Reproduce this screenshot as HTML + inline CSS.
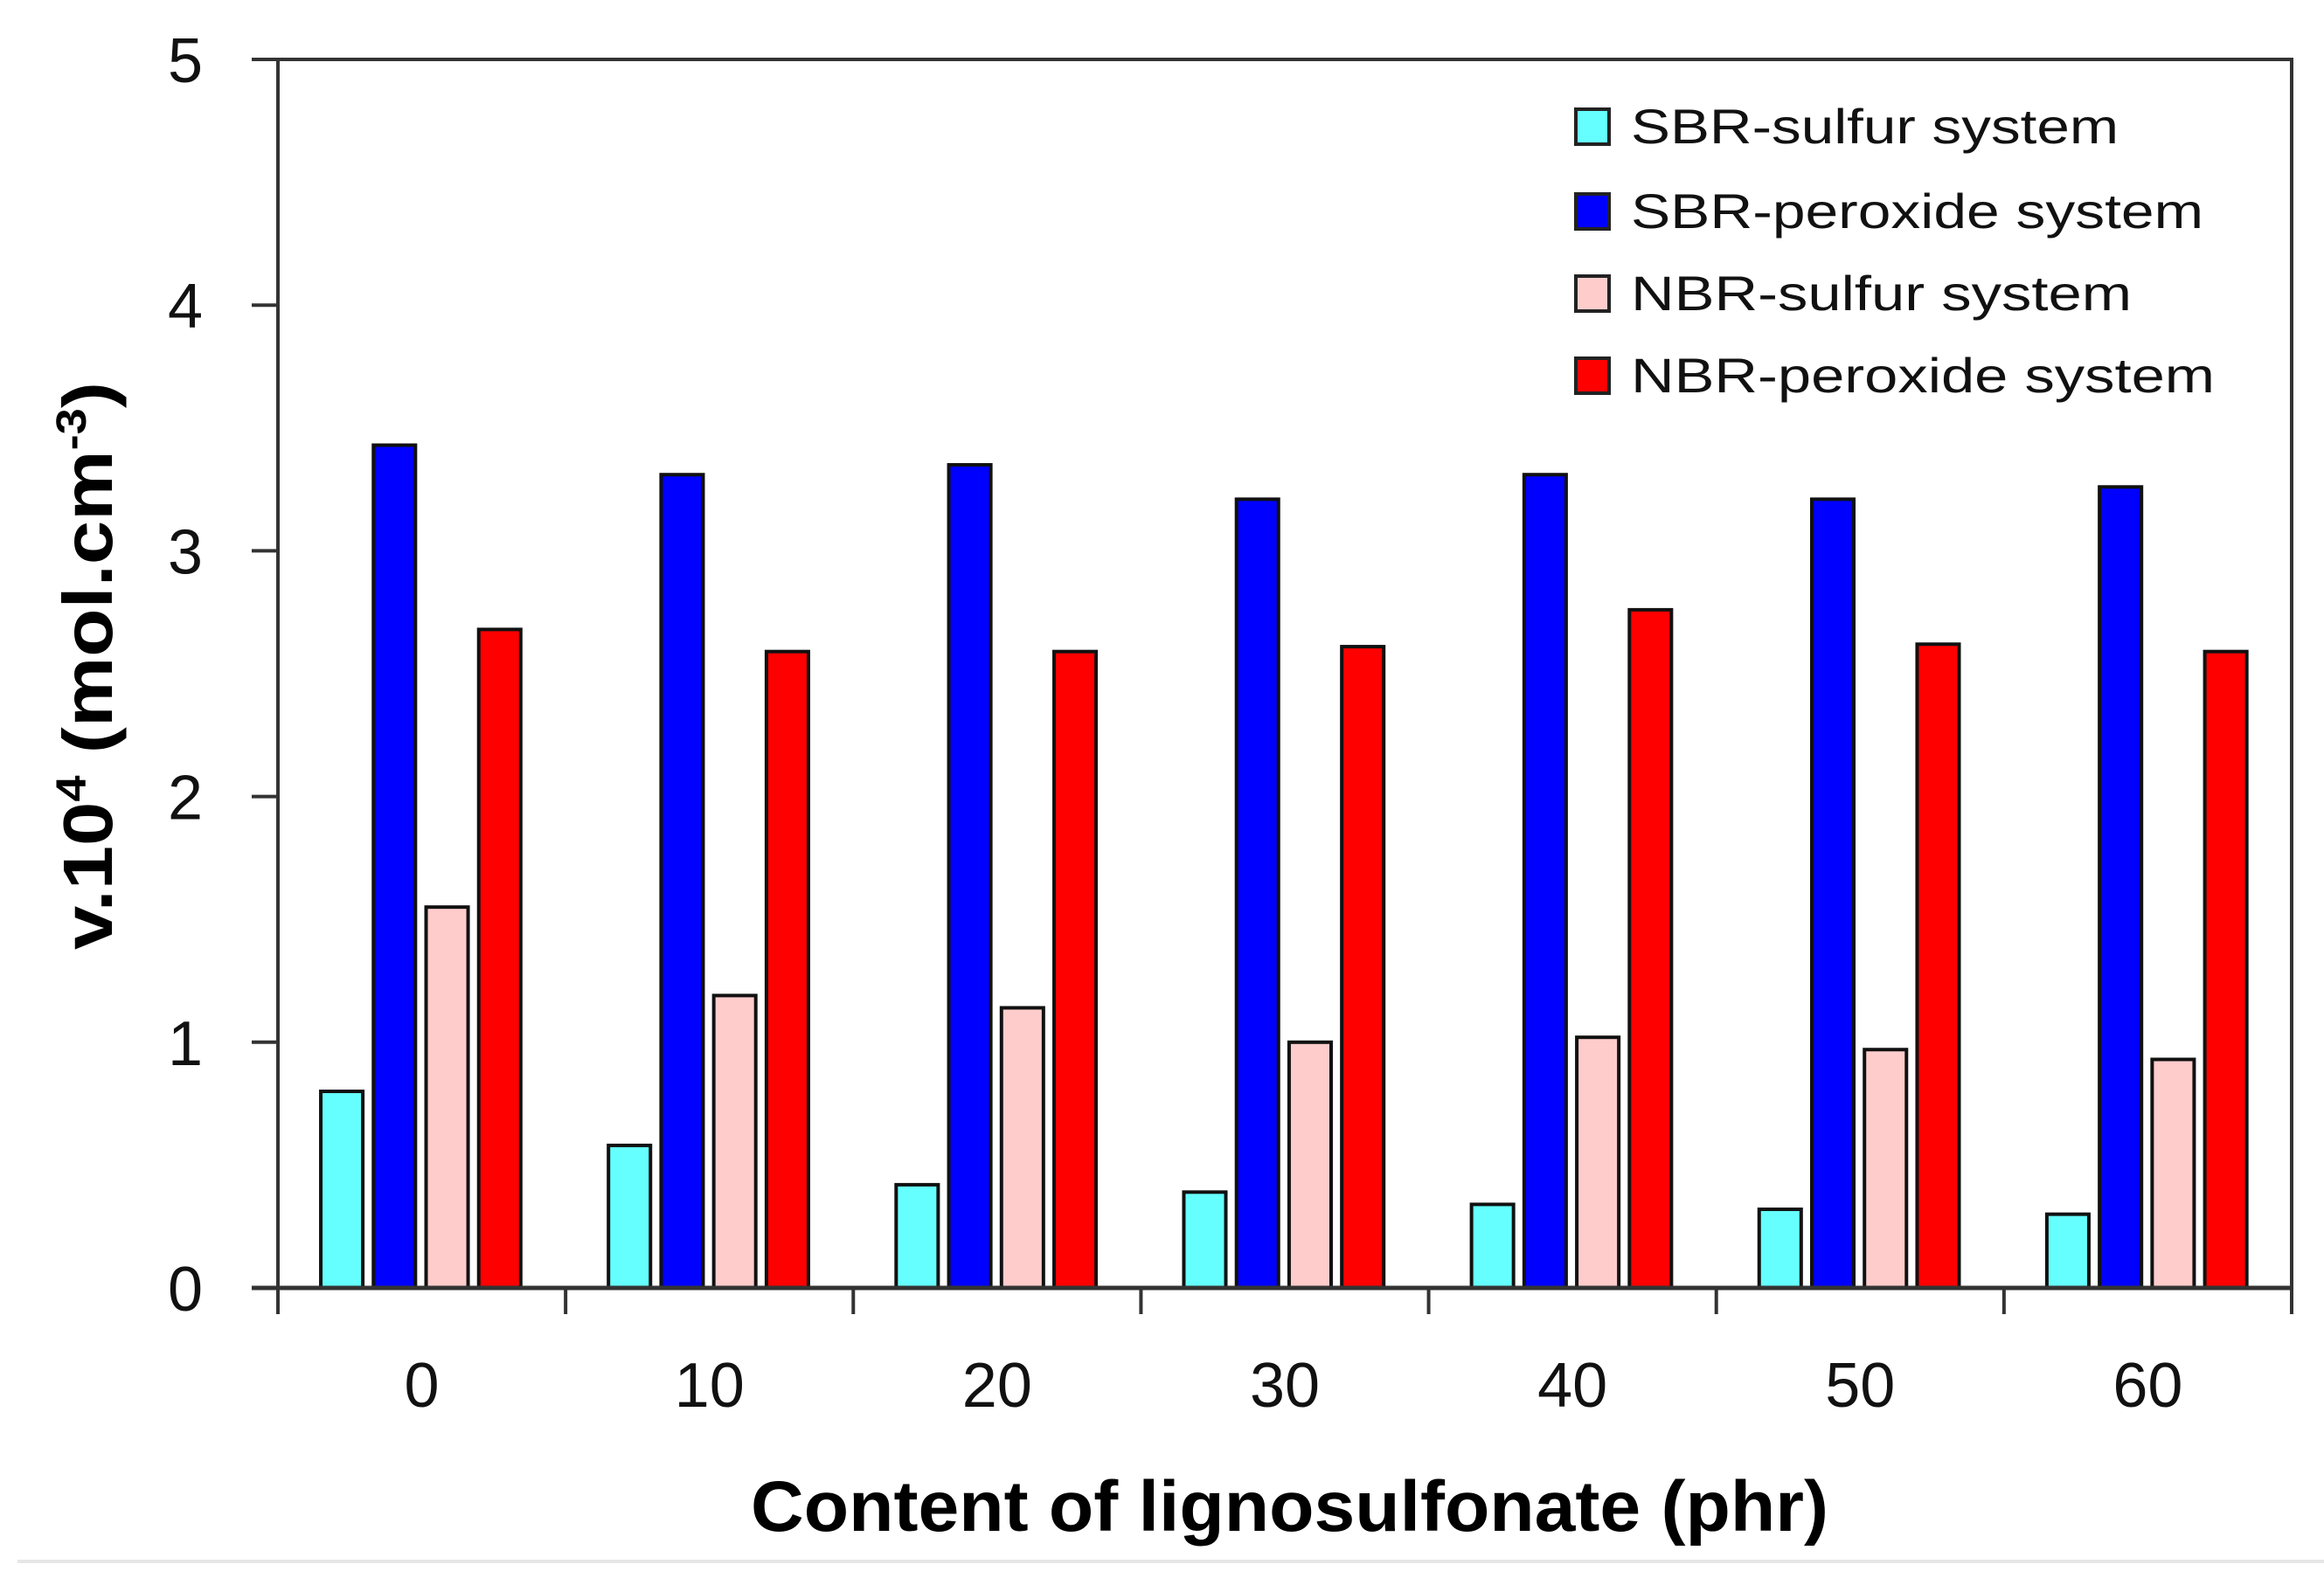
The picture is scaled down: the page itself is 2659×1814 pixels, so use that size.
<!DOCTYPE html>
<html><head><meta charset="utf-8"><style>
html,body{margin:0;padding:0;background:#fff;}
svg{display:block;font-family:"Liberation Sans",sans-serif;}
</style></head><body>
<svg id="chart" width="2659" height="1814" viewBox="0 0 2659 1814" xmlns="http://www.w3.org/2000/svg">
<rect x="0" y="0" width="2659" height="1814" fill="#fff"/>
<g id="bars"></g>
<g id="axes"></g>
<g id="legend"></g>
<text transform="translate(128,762) rotate(-90)" text-anchor="middle" font-weight="bold" font-size="80" textLength="650" lengthAdjust="spacingAndGlyphs">v.10<tspan font-size="48" dy="-30">4</tspan><tspan dy="30"> (mol.cm</tspan><tspan font-size="48" dy="-30">-3</tspan><tspan dy="30">)</tspan></text>
<text x="859" y="1752" font-weight="bold" font-size="82" textLength="1233" lengthAdjust="spacingAndGlyphs">Content of lignosulfonate (phr)</text>
<line x1="20" y1="1787" x2="2659" y2="1787" stroke="#e6e6e6" stroke-width="4"/>
</svg>
<script>
const categories = ["0","10","20","30","40","50","60"];
const sbrSulfur = [0.80,0.58,0.42,0.39,0.34,0.32,0.30];
const sbrPeroxide = [3.43,3.31,3.35,3.21,3.31,3.21,3.26];
const nbrSulfur = [1.55,1.19,1.14,1.00,1.02,0.97,0.93];
const nbrPeroxide = [2.68,2.59,2.59,2.61,2.76,2.62,2.59];
const yTicks = [0,1,2,3,4,5];
const seriesNames = ["SBR-sulfur system","SBR-peroxide system","NBR-sulfur system","NBR-peroxide system"];

const NS="http://www.w3.org/2000/svg";
const X0=318, X1=2622, Y0=1474, Y5=68, YMAX=5;
const catW=(X1-X0)/categories.length;
function y(v){return Y0-(v/YMAX)*(Y0-Y5);}
function xCat(i){return X0+i*catW;}
function mk(tag,attrs,parent){const e=document.createElementNS(NS,tag);for(const k in attrs)e.setAttribute(k,attrs[k]);parent.appendChild(e);return e;}

const series=[sbrSulfur,sbrPeroxide,nbrSulfur,nbrPeroxide];
const colors=["#66ffff","#0000ff","#ffcccc","#ff0000"];
const slugs=["sbr-sulfur","sbr-peroxide","nbr-sulfur","nbr-peroxide"];
const barsG=document.getElementById('bars');
const bw=catW*0.146, step=catW*0.183, off=catW*0.149;
series.forEach((s,si)=>{
  s.forEach((v,ci)=>{
    const r=mk('rect',{x:xCat(ci)+off+si*step,y:y(v),width:bw,height:Y0-y(v),fill:colors[si],stroke:'#111','stroke-width':4},barsG);
    
    
  });
});

const ax=document.getElementById('axes');
const box=mk('path',{d:`M${X0} ${Y0} V${Y5} H${X1} V${Y0}`,fill:'none',stroke:'#333','stroke-width':4},ax);


const xl=mk('line',{x1:X0-30,y1:Y0,x2:X1,y2:Y0,stroke:'#333','stroke-width':5},ax);


yTicks.forEach(t=>{
  const tk=mk('line',{x1:X0-30,y1:y(t),x2:X0,y2:y(t),stroke:'#333','stroke-width':4},ax);
  
  
  const tx=mk('text',{x:232,y:y(t)+26,'text-anchor':'end','font-size':72,fill:'#111'},ax);
  tx.textContent=t;
  
  
});
for(let i=0;i<=categories.length;i++){
  const tk=mk('line',{x1:xCat(i),y1:Y0,x2:xCat(i),y2:Y0+30,stroke:'#333','stroke-width':4},ax);
  
  
}
categories.forEach((c,i)=>{
  const tx=mk('text',{x:xCat(i)+catW/2,y:1610,'text-anchor':'middle','font-size':72,fill:'#111'},ax);
  tx.textContent=c;
  
  
});

const lg=document.getElementById('legend');
const lw=[558,655,573,668];
const rowY=[145,242,336,430];
seriesNames.forEach((n,i)=>{
  const sw=mk('rect',{x:1803,y:rowY[i]-20,width:38,height:40,fill:colors[i],stroke:'#222','stroke-width':4},lg);
  
  
  const t=mk('text',{x:1866,y:rowY[i]+19,'font-size':56,fill:'#111',textLength:lw[i],lengthAdjust:'spacingAndGlyphs'},lg);
  t.textContent=n;
  
  
});
</script>
</body></html>
